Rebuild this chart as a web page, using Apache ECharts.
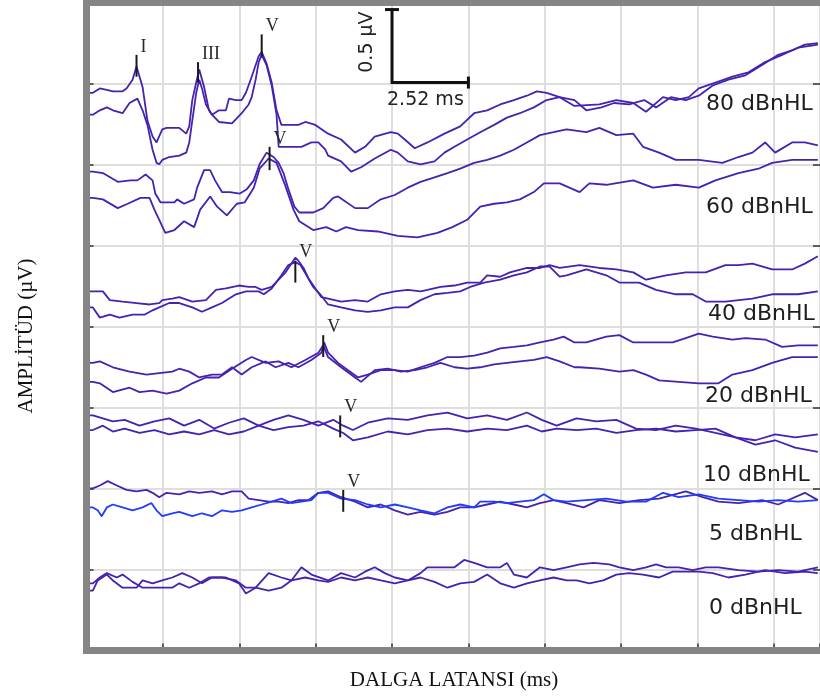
<!DOCTYPE html>
<html><head><meta charset="utf-8">
<script src="https://cdn.jsdelivr.net/npm/echarts@6/dist/echarts.min.js"></script>
<style>html,body{margin:0;padding:0;background:#fff}#c{width:820px;height:700px}</style>
</head><body><div id="c"></div>
<script>
// ABR waveforms: [latency ms, amplitude µV]
const trace80a = [[0,3.82],[0.21,3.82],[0.44,3.85],[0.67,3.84],[0.87,3.83],[1.19,3.83],[1.32,3.85],[1.52,3.91],[1.65,4.00],[1.85,3.86],[2.01,3.63],[2.18,3.52],[2.31,3.48],[2.50,3.57],[2.64,3.58],[3.06,3.58],[3.29,3.54],[3.39,3.59],[3.49,3.77],[3.62,3.89],[3.72,3.98],[3.88,3.86],[4.04,3.70],[4.14,3.67],[4.37,3.70],[4.60,3.70],[4.70,3.78],[4.93,3.77],[5.12,3.77],[5.26,3.82],[5.45,3.93],[5.68,4.07],[5.78,4.10],[5.94,4.02],[6.11,3.89],[6.27,3.70],[6.43,3.60],[6.99,3.60],[7.22,3.62],[7.55,3.60],[7.97,3.54],[8.40,3.50],[8.86,3.41],[9.19,3.45],[9.51,3.52],[10.04,3.55],[10.27,3.54],[10.50,3.50],[10.83,3.44],[11.25,3.48],[11.81,3.54],[12.33,3.59],[12.79,3.68],[13.22,3.70],[13.65,3.74],[14.10,3.77],[14.53,3.80],[14.86,3.83],[15.18,3.82],[15.61,3.79],[16.10,3.73],[16.92,3.74],[17.48,3.77],[18.04,3.75],[18.46,3.69],[19.02,3.79],[19.44,3.77],[19.87,3.79],[20.20,3.85],[20.75,3.89],[21.31,3.93],[21.84,3.96],[22.39,4.03],[22.95,4.08],[23.48,4.13],[24.13,4.15]];
const trace80b = [[0,3.67],[0.21,3.67],[0.44,3.70],[0.67,3.72],[0.87,3.70],[1.19,3.68],[1.42,3.75],[1.68,3.78],[1.85,3.70],[2.01,3.60],[2.18,3.43],[2.31,3.34],[2.40,3.33],[2.50,3.36],[2.73,3.38],[3.06,3.39],[3.29,3.41],[3.39,3.48],[3.49,3.63],[3.62,3.82],[3.72,3.91],[3.81,3.85],[3.94,3.74],[4.14,3.67],[4.37,3.62],[4.80,3.61],[5.12,3.68],[5.35,3.74],[5.45,3.79],[5.58,3.91],[5.68,4.03],[5.78,4.08],[5.94,4.01],[6.11,3.87],[6.27,3.67],[6.34,3.45],[6.66,3.45],[7.09,3.45],[7.42,3.48],[7.65,3.48],[7.88,3.43],[7.97,3.39],[8.40,3.35],[8.73,3.28],[9.06,3.31],[9.51,3.37],[10.04,3.43],[10.27,3.41],[10.60,3.35],[11.02,3.33],[11.48,3.35],[11.81,3.41],[12.14,3.45],[12.56,3.50],[12.99,3.55],[13.45,3.60],[13.87,3.65],[14.30,3.68],[14.76,3.72],[15.18,3.77],[15.61,3.79],[16.10,3.77],[16.49,3.70],[16.99,3.72],[17.41,3.75],[17.90,3.74],[18.40,3.77],[18.79,3.72],[19.28,3.79],[19.77,3.77],[20.20,3.80],[20.66,3.87],[21.18,3.91],[21.74,3.94],[22.29,4.01],[22.82,4.08],[23.28,4.11],[23.70,4.15],[24.13,4.16]];
const trace60a = [[0,3.28],[0.21,3.28],[0.54,3.27],[1.03,3.21],[1.45,3.22],[1.68,3.22],[1.95,3.26],[2.18,3.22],[2.27,3.13],[2.44,3.07],[2.90,3.07],[2.99,3.09],[3.22,3.06],[3.55,3.09],[3.65,3.17],[3.88,3.29],[4.08,3.29],[4.24,3.22],[4.47,3.14],[4.73,3.14],[5.06,3.13],[5.29,3.16],[5.52,3.22],[5.71,3.33],[5.94,3.41],[6.17,3.38],[6.34,3.34],[6.50,3.27],[6.66,3.16],[6.86,3.04],[7.02,3.00],[7.48,3.00],[7.81,3.03],[8.14,3.10],[8.30,3.11],[8.86,3.03],[9.28,3.03],[9.71,3.09],[10.17,3.12],[10.60,3.17],[11.02,3.21],[11.48,3.24],[11.91,3.27],[12.33,3.30],[12.79,3.34],[13.22,3.36],[13.65,3.39],[14.10,3.43],[14.53,3.48],[14.96,3.53],[15.41,3.55],[15.84,3.57],[16.49,3.55],[16.92,3.58],[17.48,3.53],[18.04,3.54],[18.36,3.45],[18.89,3.41],[19.44,3.36],[20.20,3.36],[20.98,3.34],[21.51,3.38],[21.97,3.41],[22.39,3.48],[22.72,3.41],[23.28,3.48],[23.70,3.48],[24.13,3.46]];
const trace60b = [[0,3.10],[0.21,3.10],[0.54,3.09],[1.03,3.03],[1.36,3.06],[1.78,3.10],[2.08,3.10],[2.24,3.02],[2.40,2.95],[2.60,2.86],[2.90,2.88],[3.22,2.94],[3.55,2.90],[3.75,3.02],[4.08,3.11],[4.31,3.04],[4.63,2.98],[4.96,3.06],[5.22,3.07],[5.52,3.17],[5.71,3.30],[6.01,3.37],[6.27,3.34],[6.53,3.20],[6.83,3.02],[7.02,2.94],[7.48,2.88],[7.91,2.90],[8.24,2.87],[8.56,2.90],[8.96,2.88],[9.61,2.87],[10.27,2.84],[10.92,2.83],[11.58,2.86],[12.07,2.90],[12.56,2.95],[12.99,3.04],[13.45,3.06],[13.87,3.07],[14.30,3.09],[14.76,3.14],[15.09,3.20],[15.61,3.20],[16.27,3.14],[16.59,3.20],[17.15,3.19],[18.04,3.22],[18.69,3.17],[19.44,3.19],[20.20,3.17],[20.75,3.22],[21.51,3.27],[22.17,3.30],[22.62,3.34],[23.28,3.36],[24.13,3.36]];
const trace40a = [[0,2.46],[0.21,2.46],[0.54,2.46],[0.77,2.40],[1.19,2.39],[1.65,2.38],[2.08,2.37],[2.40,2.38],[2.50,2.40],[2.83,2.41],[3.06,2.42],[3.49,2.39],[3.94,2.40],[4.27,2.47],[4.60,2.48],[5.03,2.50],[5.35,2.49],[5.58,2.49],[5.78,2.47],[6.11,2.49],[6.34,2.54],[6.57,2.59],[6.76,2.65],[6.89,2.69],[6.99,2.67],[7.16,2.62],[7.32,2.55],[7.55,2.48],[7.75,2.42],[7.97,2.41],[8.40,2.39],[8.86,2.40],[9.28,2.39],[9.71,2.44],[10.17,2.46],[10.60,2.47],[11.02,2.46],[11.25,2.47],[11.68,2.49],[12.14,2.50],[12.56,2.52],[12.99,2.52],[13.22,2.57],[13.65,2.56],[13.97,2.59],[14.53,2.62],[14.96,2.62],[15.28,2.64],[15.61,2.62],[16.27,2.64],[16.92,2.62],[17.48,2.61],[18.04,2.59],[18.46,2.54],[19.12,2.57],[19.77,2.59],[20.43,2.59],[21.08,2.64],[21.51,2.64],[21.97,2.65],[22.62,2.61],[23.28,2.61],[23.70,2.65],[24.13,2.70]];
const trace40b = [[0,2.35],[0.21,2.35],[0.44,2.28],[0.77,2.30],[1.09,2.28],[1.52,2.30],[1.91,2.30],[2.18,2.33],[2.40,2.35],[2.73,2.38],[3.06,2.38],[3.49,2.35],[3.81,2.32],[4.14,2.35],[4.47,2.38],[4.93,2.44],[5.26,2.46],[5.68,2.46],[5.85,2.44],[6.11,2.48],[6.43,2.57],[6.66,2.64],[6.89,2.66],[7.06,2.64],[7.26,2.57],[7.48,2.49],[7.71,2.44],[7.97,2.37],[8.40,2.35],[8.86,2.33],[9.28,2.32],[9.71,2.33],[10.17,2.35],[10.60,2.35],[11.02,2.40],[11.48,2.44],[11.91,2.45],[12.33,2.46],[12.66,2.49],[13.12,2.52],[13.65,2.54],[14.10,2.57],[14.53,2.59],[14.96,2.63],[15.28,2.63],[15.61,2.56],[15.84,2.57],[16.49,2.61],[17.15,2.57],[17.58,2.52],[18.23,2.52],[18.79,2.47],[19.44,2.44],[20.00,2.44],[20.43,2.39],[21.08,2.39],[21.97,2.41],[22.62,2.44],[23.48,2.44],[24.13,2.46]];
const trace20a = [[0,1.97],[0.21,1.97],[0.44,1.98],[0.87,1.94],[1.42,1.91],[1.98,1.89],[2.40,1.90],[2.83,1.91],[3.06,1.93],[3.39,1.91],[3.72,1.87],[4.14,1.89],[4.47,1.89],[4.80,1.94],[5.12,1.89],[5.45,1.94],[5.91,1.98],[6.24,1.94],[6.66,1.97],[6.99,1.94],[7.42,1.99],[7.75,2.04],[7.84,2.11],[7.97,2.04],[8.30,1.97],[8.63,1.92],[8.96,1.87],[9.28,1.89],[9.71,1.92],[10.17,1.92],[10.60,1.91],[11.02,1.94],[11.48,1.97],[11.91,2.01],[12.33,2.01],[12.79,2.02],[13.22,2.04],[13.65,2.07],[14.10,2.08],[14.53,2.09],[14.96,2.11],[15.41,2.13],[15.74,2.15],[16.10,2.11],[16.49,2.11],[17.15,2.15],[17.58,2.16],[18.04,2.11],[18.69,2.11],[19.34,2.11],[19.77,2.14],[20.20,2.17],[20.66,2.15],[21.31,2.13],[21.74,2.14],[22.39,2.13],[22.95,2.08],[23.48,2.09],[24.13,2.09]];
const trace20b = [[0,1.84],[0.21,1.84],[0.44,1.83],[0.87,1.77],[1.42,1.80],[1.75,1.77],[2.18,1.78],[2.64,1.76],[3.06,1.78],[3.49,1.83],[3.94,1.87],[4.37,1.87],[4.80,1.93],[5.26,1.99],[5.45,2.01],[5.91,1.97],[6.34,1.98],[6.76,1.94],[7.22,1.99],[7.65,2.04],[7.81,2.09],[7.97,2.01],[8.40,1.94],[8.86,1.87],[9.06,1.84],[9.51,1.92],[9.94,1.93],[10.37,1.91],[10.83,1.92],[11.25,1.94],[11.68,1.97],[12.14,1.94],[12.56,1.93],[12.99,1.94],[13.45,1.96],[13.87,1.97],[14.30,1.98],[14.76,1.99],[15.18,2.01],[15.61,1.98],[16.10,1.94],[16.27,1.94],[16.92,1.93],[17.58,1.91],[18.04,1.92],[18.46,1.89],[18.89,1.85],[19.54,1.84],[20.20,1.83],[20.85,1.83],[21.31,1.89],[21.97,1.92],[22.62,1.97],[23.28,2.01],[24.13,2.01]];
const trace10a = [[0,1.61],[0.21,1.61],[0.54,1.59],[0.87,1.57],[1.26,1.58],[1.75,1.54],[2.24,1.57],[2.73,1.59],[3.22,1.54],[3.72,1.58],[4.21,1.52],[4.70,1.56],[5.19,1.59],[5.68,1.54],[6.17,1.58],[6.66,1.61],[7.16,1.58],[7.65,1.54],[8.14,1.58],[8.47,1.54],[8.79,1.51],[9.28,1.56],[9.94,1.59],[10.60,1.58],[11.25,1.61],[11.91,1.63],[12.56,1.59],[13.22,1.61],[13.87,1.58],[14.53,1.63],[15.02,1.58],[15.51,1.54],[16.17,1.59],[16.82,1.57],[17.48,1.58],[18.13,1.52],[18.79,1.51],[19.44,1.54],[20.10,1.52],[20.75,1.49],[21.41,1.46],[22.07,1.44],[22.72,1.48],[23.38,1.46],[24.13,1.48]];
const trace10b = [[0,1.51],[0.21,1.51],[0.54,1.54],[0.87,1.50],[1.26,1.52],[1.75,1.49],[2.24,1.51],[2.73,1.48],[3.22,1.50],[3.72,1.48],[4.21,1.51],[4.70,1.48],[5.19,1.50],[5.68,1.54],[6.17,1.51],[6.66,1.53],[7.16,1.54],[7.65,1.57],[8.14,1.52],[8.47,1.49],[8.79,1.44],[9.28,1.46],[9.94,1.50],[10.60,1.48],[11.25,1.51],[11.91,1.52],[12.56,1.50],[13.22,1.52],[13.87,1.51],[14.53,1.54],[15.02,1.50],[15.51,1.52],[16.17,1.51],[16.82,1.52],[17.48,1.49],[18.13,1.51],[18.79,1.52],[19.44,1.50],[20.10,1.51],[20.75,1.52],[21.41,1.46],[22.07,1.41],[22.72,1.44],[23.38,1.39],[24.13,1.36]];
const trace5a = [[0,1.11],[0.21,1.11],[0.44,1.13],[0.70,1.16],[1.00,1.13],[1.32,1.10],[1.65,1.09],[1.98,1.10],[2.18,1.08],[2.40,1.05],[2.64,1.08],[3.06,1.07],[3.39,1.09],[3.72,1.08],[4.14,1.09],[4.47,1.07],[4.80,1.09],[5.12,1.09],[5.35,1.04],[5.68,1.03],[6.01,1.02],[6.34,1.02],[6.66,1.01],[6.99,1.03],[7.32,1.03],[7.65,1.08],[7.97,1.09],[8.40,1.05],[8.86,1.02],[9.28,0.98],[9.71,1.00],[10.17,0.96],[10.60,0.93],[11.02,0.95],[11.48,0.93],[11.91,0.95],[12.33,0.98],[12.79,0.98],[13.22,1.00],[13.65,1.02],[14.10,1.00],[14.53,0.98],[14.96,1.01],[15.41,1.03],[15.84,1.01],[16.40,0.98],[16.92,1.03],[17.58,1.01],[18.23,1.03],[18.89,1.04],[19.77,1.09],[20.33,1.05],[20.85,1.02],[21.51,1.01],[22.29,1.03],[22.82,1.00],[23.70,1.08],[24.13,1.03]];
const trace5b = [[0,0.98],[0.21,0.98],[0.37,0.96],[0.50,0.92],[0.67,0.98],[0.87,1.00],[1.19,0.98],[1.52,0.96],[1.85,0.98],[2.14,1.01],[2.31,0.96],[2.50,0.92],[2.83,0.94],[3.06,0.95],[3.49,0.92],[3.81,0.94],[4.14,0.92],[4.47,0.96],[4.80,0.95],[5.12,0.96],[5.45,0.98],[5.78,1.00],[6.11,1.02],[6.43,1.04],[6.76,1.01],[7.09,1.02],[7.42,1.03],[7.65,1.08],[7.97,1.08],[8.40,1.04],[8.86,1.03],[9.28,1.00],[9.71,0.98],[10.17,1.00],[10.60,0.98],[11.02,0.96],[11.48,0.94],[11.91,0.98],[12.33,1.00],[12.79,0.98],[12.99,1.02],[13.45,1.02],[13.87,1.01],[14.30,1.02],[14.76,1.03],[15.09,1.07],[15.41,1.03],[15.84,1.02],[16.49,1.03],[17.15,1.04],[17.81,1.02],[18.46,1.02],[19.02,1.08],[19.54,1.05],[20.20,1.07],[20.85,1.04],[21.51,1.03],[22.17,1.02],[22.82,1.03],[23.48,1.02],[24.13,1.03]];
const trace0a = [[0,0.46],[0.21,0.46],[0.44,0.50],[0.67,0.53],[1.00,0.50],[1.19,0.52],[1.52,0.47],[1.85,0.43],[2.18,0.43],[2.50,0.43],[2.83,0.43],[3.06,0.46],[3.39,0.43],[3.72,0.46],[4.04,0.50],[4.47,0.50],[4.93,0.48],[5.26,0.43],[5.58,0.43],[6.01,0.41],[6.43,0.43],[6.76,0.48],[7.09,0.57],[7.42,0.52],[7.97,0.48],[8.40,0.53],[8.86,0.50],[9.19,0.54],[9.51,0.57],[9.84,0.53],[10.17,0.50],[10.60,0.48],[11.02,0.53],[11.25,0.57],[11.68,0.57],[12.14,0.57],[12.46,0.62],[12.79,0.60],[13.22,0.57],[13.65,0.57],[13.87,0.60],[14.10,0.52],[14.53,0.50],[14.96,0.57],[15.41,0.55],[15.84,0.57],[16.27,0.59],[16.73,0.60],[17.25,0.59],[17.58,0.57],[18.04,0.55],[18.46,0.57],[18.79,0.59],[19.12,0.57],[19.54,0.57],[20.00,0.55],[20.43,0.57],[20.85,0.57],[21.51,0.55],[22.17,0.54],[22.82,0.55],[23.48,0.54],[24.13,0.57]];
const trace0b = [[0,0.41],[0.21,0.41],[0.37,0.48],[0.67,0.52],[0.87,0.48],[1.19,0.43],[1.65,0.43],[1.85,0.48],[2.18,0.46],[2.50,0.48],[2.83,0.50],[3.16,0.53],[3.49,0.50],[3.81,0.46],[4.14,0.50],[4.60,0.50],[5.03,0.46],[5.26,0.39],[5.58,0.43],[6.01,0.53],[6.43,0.50],[6.76,0.48],[7.22,0.50],[7.65,0.48],[7.97,0.47],[8.40,0.50],[8.86,0.48],[9.28,0.50],[9.71,0.48],[10.17,0.46],[10.60,0.48],[11.02,0.50],[11.48,0.47],[11.91,0.43],[12.33,0.46],[12.79,0.47],[13.22,0.52],[13.65,0.46],[14.10,0.43],[14.53,0.46],[14.96,0.48],[15.41,0.50],[15.84,0.48],[16.17,0.48],[16.59,0.46],[17.05,0.48],[17.48,0.52],[17.90,0.53],[18.36,0.52],[18.89,0.50],[19.34,0.54],[19.77,0.54],[20.20,0.54],[20.66,0.53],[21.18,0.50],[21.74,0.52],[22.39,0.55],[23.05,0.53],[23.70,0.54],[24.13,0.53]];

const levelLabels = ['80 dBnHL','60 dBnHL','40 dBnHL','20 dBnHL','10 dBnHL','5 dBnHL','0 dBnHL'];
const peakNames = ['I','III','V','V','V','V','V','V'];
const peakTimes = [1.65, 3.68, 5.78, 6.04, 6.89, 7.81, 8.37, 8.47];
const peakTop = [4.08, 4.03, 4.22, 3.45, 2.67, 2.16, 1.61, 1.10];
const peakBottom = [3.93, 3.89, 4.07, 3.29, 2.52, 2.01, 1.46, 0.95];
const scaleBarTime = [10.08, 12.60];
const scaleBarAmp = [3.89, 4.39];
const scaleBarTexts = ['2.52 ms', '0.5 µV'];
const xTitle = 'DALGA LATANSI (ms)';
const yTitle = 'AMPLİTÜD (µV)';

const PURPLE = '#4622b0', BLUE = '#1f3cff';
const traces = [
  [trace80a, PURPLE],[trace80b, PURPLE],[trace60a, PURPLE],[trace60b, PURPLE],
  [trace40a, PURPLE],[trace40b, PURPLE],[trace20a, PURPLE],[trace20b, PURPLE],
  [trace10a, PURPLE],[trace10b, PURPLE],[trace5a, PURPLE],[trace5b, BLUE],
  [trace0a, PURPLE],[trace0b, PURPLE]
];

const G = {left: 86.5, top: 2.5, width: 738.5, height: 648};
const labelPos = [[706,104],[706,207],[708,314],[705,396],[703,475],[709,534],[709,608]];

const chart = echarts.init(document.getElementById('c'), null, {renderer:'canvas'});
const series = traces.map(([d, c]) => ({
  type: 'line', data: d, showSymbol: false, symbol: 'none', animation: false,
  lineStyle: {color: c, width: 1.8}, z: 3, silent: true
}));
series.push({
  type: 'custom', animation: false, silent: true, z: 5,
  data: peakTimes.map((t, i) => [t, peakTop[i], peakBottom[i]]),
  renderItem(params, api) {
    const a = api.coord([api.value(0), api.value(1)]);
    const b = api.coord([api.value(0), api.value(2)]);
    return {type: 'group', children: [
      {type: 'line', shape: {x1: a[0], y1: a[1], x2: b[0], y2: b[1]}, style: {stroke: '#1a1a1a', lineWidth: 2}},
      {type: 'text', x: a[0] + 4, y: a[1] + 1, style: {text: peakNames[params.dataIndex], fontSize: 18, fontFamily: 'Liberation Serif', fill: '#2a2a2a', align: 'left', verticalAlign: 'bottom'}}
    ]};
  }
});
series.push({
  type: 'custom', animation: false, silent: true, z: 6,
  data: [[scaleBarTime[0], scaleBarTime[1], scaleBarAmp[0], scaleBarAmp[1]]],
  renderItem(params, api) {
    const top = api.coord([api.value(0), api.value(3)]);
    const corner = api.coord([api.value(0), api.value(2)]);
    const right = api.coord([api.value(1), api.value(2)]);
    const st = {stroke: '#111', lineWidth: 3};
    return {type: 'group', children: [
      {type: 'polyline', shape: {points: [top, corner, right]}, style: Object.assign({fill: null}, st)},
      {type: 'line', shape: {x1: top[0] - 7, y1: top[1], x2: top[0] + 7, y2: top[1]}, style: st},
      {type: 'line', shape: {x1: right[0], y1: right[1] - 6, x2: right[0], y2: right[1] + 6}, style: st},
      {type: 'text', x: corner[0] - 5, y: corner[1] + 8, style: {text: scaleBarTexts[0], fontSize: 19, fontFamily: 'DejaVu Sans', fill: '#222', align: 'left', verticalAlign: 'top'}},
      {type: 'text', x: corner[0] - 25, y: (top[1] + corner[1]) / 2 - 4, rotation: Math.PI / 2, style: {text: scaleBarTexts[1], fontSize: 19, fontFamily: 'DejaVu Sans', fill: '#222', align: 'center', verticalAlign: 'middle'}}
    ]};
  }
});

const graphics = levelLabels.map((t, i) => ({
  type: 'text', x: labelPos[i][0], y: labelPos[i][1], z: 10,
  style: {text: t, fontSize: 22, fontFamily: 'DejaVu Sans', fill: '#1e1e1e', align: 'left', verticalAlign: 'middle'}
}));
graphics.push({type: 'rect', shape: {x: G.left, y: G.top, width: G.width, height: G.height}, style: {fill: null, stroke: '#858585', lineWidth: 7}, z: 20});
graphics.push({type: 'text', x: 454, y: 680, style: {text: xTitle, fontSize: 21, fontFamily: 'Liberation Serif', fill: '#111', align: 'center', verticalAlign: 'middle'}});
graphics.push({type: 'text', x: 26, y: 336, rotation: Math.PI / 2, style: {text: yTitle, fontSize: 21, fontFamily: 'Liberation Serif', fill: '#111', align: 'center', verticalAlign: 'middle'}});

const tickStyle = {show: true, inside: true, length: 7, lineStyle: {color: '#333', width: 1.5}};
chart.setOption({
  animation: false,
  backgroundColor: '#fff',
  grid: Object.assign({show: false}, G),
  xAxis: {type: 'value', min: 0, max: 24.2, interval: 2.52,
    axisLine: {show: false}, axisLabel: {show: false}, axisTick: tickStyle,
    splitLine: {show: true, lineStyle: {color: '#dedede', width: 2}}},
  yAxis: [
    {type: 'value', min: 0, max: 4.4384, interval: 0.5548, position: 'left',
      axisLine: {show: false}, axisLabel: {show: false}, axisTick: tickStyle,
      splitLine: {show: true, lineStyle: {color: '#dedede', width: 2}}},
    {type: 'value', min: 0, max: 4.4384, interval: 0.5548, position: 'right',
      axisLine: {show: false}, axisLabel: {show: false}, axisTick: tickStyle, splitLine: {show: false}}
  ],
  series: series,
  graphic: graphics
});
</script></body></html>
